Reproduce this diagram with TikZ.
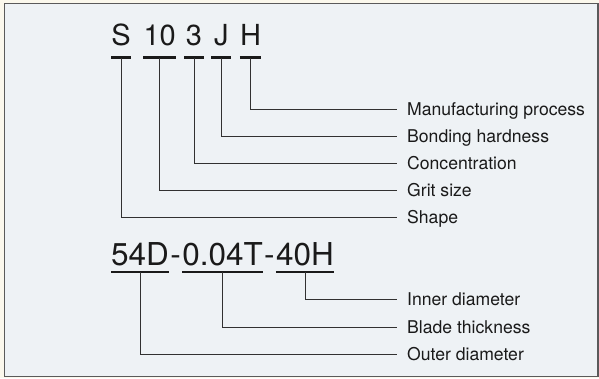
\documentclass[tikz,border=0pt]{standalone}
\usepackage{fontspec}
\setmainfont{TeX Gyre Heros}
\usetikzlibrary{positioning, calc}
\definecolor{panel}{HTML}{EEF2F5}
\definecolor{paper}{HTML}{FBF8EC}
\definecolor{ink}{HTML}{1A1A1A}
\definecolor{frame}{HTML}{5A5A5A}
\begin{document}
\begin{tikzpicture}[x=1pt, y=-1pt,
  code/.style={inner sep=0pt, minimum width=19.5pt, text=ink, font=\fontsize{29}{31}\selectfont},
  spec/.style={inner sep=0pt, text=ink, font=\fontsize{31.5}{34}\selectfont},
  desc/.style={anchor=west, inner xsep=10pt, inner ysep=0pt, text height=12pt, text depth=0pt,
    text=ink, font=\fontsize{17.6}{20}\selectfont},
  bar/.style={line width=2.2pt, ink},
  lead/.style={line width=0.9pt, ink!90}]
  \fill[paper] (0,0) rectangle (599,378);
  \filldraw[fill=panel, draw=frame, line width=1.2pt] (4.5,3.5) rectangle (598,376.5);
  \useasboundingbox (0,0) rectangle (599,378);

  \node[code, anchor=base west] (s) at (111,45) {S};
  \node[code, base right=12.5pt of s] (grit) {10};
  \node[code, base right=8pt of grit] (conc) {3};
  \node[code, base right=7.5pt of conc] (bond) {J};
  \node[code, base right=8.5pt of bond] (proc) {H};
  \foreach \n in {s, grit, conc, bond, proc}
    \draw[bar] ([yshift=-12.5pt]\n.base west) -- ([yshift=-12.5pt]\n.base east);

  \node[desc] (processlbl) at (397,109.5) {Manufacturing process};
  \node[desc] (hardlbl) at (397,136) {Bonding hardness};
  \node[desc] (conclbl) at (397,163) {Concentration};
  \node[desc] (gritlbl) at (397,190) {Grit size};
  \node[desc] (shapelbl) at (397,217) {Shape};
  \draw[lead] ([yshift=-12.5pt]proc.base) |- (processlbl.west);
  \draw[lead] ([yshift=-12.5pt]bond.base) |- (hardlbl.west);
  \draw[lead] ([yshift=-12.5pt]conc.base) |- (conclbl.west);
  \draw[lead] ([yshift=-12.5pt]grit.base) |- (gritlbl.west);
  \draw[lead] ([yshift=-12.5pt]s.base) |- (shapelbl.west);

  \node[spec, anchor=base west] (od) at (111,265) {54D};
  \node[spec, inner xsep=1pt, base right=0pt of od] (dasha) {-};
  \node[spec, base right=0pt of dasha] (thick) {0.04T};
  \node[spec, inner xsep=1pt, base right=0pt of thick] (dashb) {-};
  \node[spec, base right=0pt of dashb] (id) {40H};
  \foreach \n in {od, thick, id}
    \draw[bar] ([yshift=-7pt]\n.base west) -- ([yshift=-7pt]\n.base east);

  \node[desc] (innerlbl) at (397,299) {Inner diameter};
  \node[desc] (bladelbl) at (397,327) {Blade thickness};
  \node[desc] (outerlbl) at (397,354) {Outer diameter};
  \draw[lead] ([yshift=-7pt]id.base) |- (innerlbl.west);
  \draw[lead] ([yshift=-7pt]thick.base) |- (bladelbl.west);
  \draw[lead] ([yshift=-7pt]od.base) |- (outerlbl.west);
\end{tikzpicture}
\end{document}
